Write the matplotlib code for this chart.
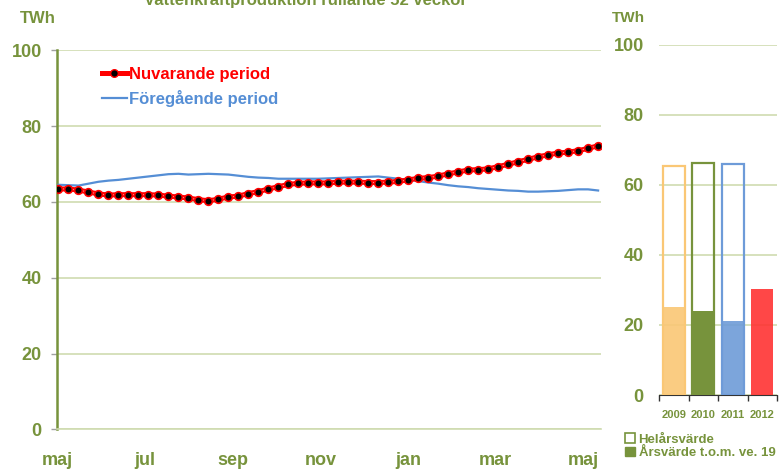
import numpy as np
import matplotlib
matplotlib.use('Agg')
import matplotlib.pyplot as plt
from matplotlib.lines import Line2D
from matplotlib.patches import Patch

plt.rcParams['font.family'] = ['Liberation Sans', 'DejaVu Sans']
plt.rcParams['font.weight'] = 'bold'

# weekly values, rolling 52 weeks (TWh)
current_period = [63.4, 63.4, 63.1, 62.6, 62.1, 61.8, 61.9, 61.9, 61.9, 61.9,
                  61.8, 61.5, 61.3, 61.0, 60.6, 60.3, 60.7, 61.3, 61.5, 62.2,
                  62.7, 63.4, 64.0, 64.6, 64.9, 65.0, 65.0, 65.0, 65.2, 65.2,
                  65.2, 65.1, 65.1, 65.2, 65.4, 65.8, 66.2, 66.4, 66.8, 67.4,
                  67.9, 68.4, 68.5, 68.7, 69.3, 69.9, 70.6, 71.2, 71.9, 72.4,
                  72.9, 73.1, 73.5, 74.1, 74.8]
previous_period = [64.5, 64.4, 64.3, 64.8, 65.3, 65.6, 65.8, 66.1, 66.4, 66.7,
                   67.0, 67.3, 67.4, 67.2, 67.3, 67.4, 67.3, 67.2, 66.9, 66.6,
                   66.4, 66.3, 66.1, 66.1, 66.1, 66.1, 66.1, 66.2, 66.3, 66.4,
                   66.5, 66.6, 66.7, 66.4, 66.1, 65.8, 65.5, 65.1, 64.8, 64.4,
                   64.1, 63.9, 63.6, 63.4, 63.2, 63.0, 62.9, 62.7, 62.7, 62.8,
                   62.9, 63.1, 63.3, 63.3, 63.0]
month_labels = ['maj', 'jul', 'sep', 'nov', 'jan', 'mar', 'maj']

years = ['2009', '2010', '2011', '2012']
full_year = [65.4, 66.2, 65.9, None]
year_to_week19 = [25.1, 24.1, 21.2, 30.2]
year_colors = ['#FAC775', '#77933C', '#6E9BD8', '#FF3333']

olive = '#77933C'
grid_col = '#CFDCB0'
blue = '#558ED5'

fig = plt.figure(figsize=(7.84, 4.73), dpi=100)

# ---- left: rolling line chart
ax = fig.add_axes([0.0727, 0.092, 0.694, 0.802])
weeks = np.arange(len(current_period))
ax.plot(weeks, previous_period, color=blue, lw=1.6, zorder=3)
ax.plot(weeks, current_period, color='red', lw=3.6, zorder=4)
ax.plot(weeks, current_period, color='#FF9A9A', lw=0.8, zorder=5)
ax.plot(weeks, current_period, ls='none', marker='o', ms=5.5,
        mfc='black', mec='red', mew=1.2, zorder=6)

ax.set_xlim(-0.15, 54.3)
ax.set_ylim(0, 100)
ax.set_yticks(range(0, 101, 20))
ax.yaxis.grid(True, color=grid_col, lw=1.2)
ax.set_axisbelow(True)
ax.set_xticks(np.linspace(-0.1, 52.5, 7))
ax.set_xticklabels(month_labels)
ax.tick_params(axis='x', length=0, pad=16, labelsize=13, labelcolor=olive)
ax.tick_params(axis='y', length=4, width=1, color='#A0A0A0', pad=7,
               labelsize=13, labelcolor=olive)
for s in ['top', 'right']:
    ax.spines[s].set_visible(False)
ax.spines['left'].set_color(olive)
ax.spines['left'].set_linewidth(1.8)
ax.spines['bottom'].set_color(grid_col)
ax.spines['bottom'].set_linewidth(1.2)

handles = [Line2D([], [], color='red', lw=3.6, marker='o', ms=5.5,
                  mfc='black', mec='red'),
           Line2D([], [], color=blue, lw=1.6)]
leg = ax.legend(handles, ['Nuvarande period', 'Föregående period'],
                loc='upper left', bbox_to_anchor=(0.055, 0.995),
                frameon=False, fontsize=12, handlelength=1.5,
                handletextpad=0.1, labelspacing=0.45)
leg.get_texts()[0].set_color('red')
leg.get_texts()[1].set_color(blue)

# ---- right: yearly bars
ax2 = fig.add_axes([0.8406, 0.1649, 0.1505, 0.74])
xb = np.arange(len(years))
for i in range(len(years)):
    ax2.bar(xb[i], year_to_week19[i], width=0.75, color=year_colors[i],
            alpha=0.9 if i != 1 else 1.0, zorder=3)
    if full_year[i] is not None:
        ax2.bar(xb[i], full_year[i], width=0.75, facecolor='none',
                edgecolor=year_colors[i], lw=1.6, zorder=4)
ax2.set_xlim(-0.5, 3.5)
ax2.set_ylim(0, 100)
ax2.set_yticks(range(0, 101, 20))
ax2.yaxis.grid(True, color=grid_col, lw=1.2)
ax2.set_axisbelow(True)
ax2.set_xticks(np.arange(-0.5, 4, 1))
ax2.set_xticklabels([])
ax2.set_xticks(xb, minor=True)
ax2.set_xticklabels(years, minor=True)
ax2.tick_params(axis='x', which='major', length=4, width=1, color='#333333', direction='out')
ax2.tick_params(axis='x', which='minor', length=0, pad=11, labelsize=8,
                labelcolor=olive)
ax2.tick_params(axis='y', length=0, pad=11, labelsize=13, labelcolor=olive)
for s in ['top', 'right', 'left']:
    ax2.spines[s].set_visible(False)
ax2.spines['bottom'].set_color('#333333')

fig.legend([Patch(facecolor='white', edgecolor=olive, lw=1.2),
            Patch(facecolor=olive, edgecolor=olive)],
           ['Helårsvärde', 'Årsvärde t.o.m. ve. 19'],
           loc='upper left', bbox_to_anchor=(0.791, 0.095), frameon=False,
           fontsize=9.5, labelcolor=olive, handlelength=0.7, handleheight=0.7,
           handletextpad=0.3, labelspacing=0.1, borderaxespad=0)

# ---- texts
fig.text(0.39, 0.989, 'Vattenkraftproduktion rullande 52 veckor', ha='center',
         va='baseline', fontsize=12, color=olive)
fig.text(38 / 784, 1 - 18.5 / 473, 'TWh', ha='center', va='center',
         fontsize=12, color=olive)
fig.text(628 / 784, 1 - 18.5 / 473, 'TWh', ha='center', va='center',
         fontsize=11, color=olive)

fig.savefig('out.png', dpi=100)
